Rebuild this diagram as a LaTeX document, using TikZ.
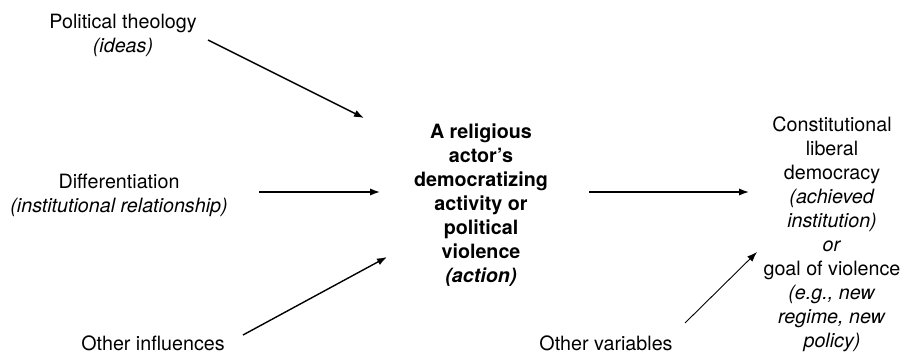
\documentclass[tikz,border=0pt]{standalone}
\usepackage{fontspec}
\setmainfont{TeX Gyre Heros}
\usetikzlibrary{arrows.meta}
\begin{document}
\begin{tikzpicture}[x=0.5pt,y=-0.5pt,
  lbl/.style={align=center,inner sep=0pt,font=\fontsize{9.85}{12}\selectfont},
  arr/.style={-{Latex[length=5pt,width=3.6pt]},line width=0.7pt},
  thinarr/.style={-{Latex[length=5pt,width=3.6pt]},line width=0.45pt}]
\useasboundingbox (0,0) rectangle (904,353);
\node[lbl] (pt) at (123,35) {Political theology\\\textit{(ideas)}};
\node[lbl] (diff) at (119,195) {Differentiation\\\textit{(institutional relationship)}};
\node[lbl] (oi) at (153,343) {Other influences};
\node[lbl,font=\fontsize{9.85}{12}\selectfont\bfseries] (act) at (481,205)
  {A religious\\actor's\\democratizing\\activity or\\political\\violence\\\textit{(action)}};
\node[lbl] (res) at (832,234) {Constitutional\\liberal\\democracy\\\textit{(achieved}\\\textit{institution)}\\\textit{or}\\goal of violence\\\textit{(e.g., new}\\\textit{regime, new}\\\textit{policy)}};
\node[lbl] (ov) at (606,343) {Other variables};
\coordinate (ptS) at (208,40);
\coordinate (ptE) at (364,118);
\coordinate (dfS) at (259,192);
\coordinate (dfE) at (380,192);
\coordinate (oiS) at (243,335);
\coordinate (oiE) at (387,257);
\coordinate (acS) at (589,192);
\coordinate (acE) at (749,192);
\coordinate (ovS) at (685,323);
\coordinate (ovE) at (757,252);
\draw[arr] (ptS) -- (ptE);
\draw[arr] (dfS) -- (dfE);
\draw[arr] (oiS) -- (oiE);
\draw[arr] (acS) -- (acE);
\draw[thinarr] (ovS) -- (ovE);
\end{tikzpicture}
\end{document}
